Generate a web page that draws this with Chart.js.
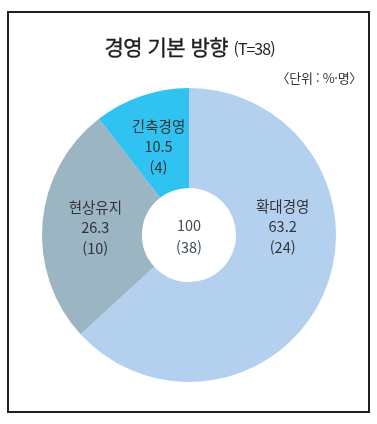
<!DOCTYPE html>
<html lang="ko">
<head>
  <meta charset="UTF-8">
  <title>경영 기본 방향</title>
  <script src="https://cdn.jsdelivr.net/npm/chart.js"></script>
  <style>
    body { margin: 0; background: #fff; font-family: "Noto Sans CJK KR", sans-serif; }
    .wrap { position: relative; width: 377px; height: 424px; }
    .frame {
      position: absolute; left: 7px; top: 11px; width: 359px; height: 398px;
      border: 2px solid #231f20;
    }
    #chart { position: absolute; left: 0; top: 0; }
    .titulo {
      position: absolute; left: 0; width: 379px; top: 31px; text-align: center;
      font-size: 21px; font-weight: 400; color: #231f20; letter-spacing: -0.5px;
      -webkit-text-stroke: 0.4px #231f20;
    }
    .titulo small { font-size: 16px; letter-spacing: -1px; -webkit-text-stroke: 0; }
    .unidad {
      position: absolute; right: 15px; top: 68px;
      font-size: 13px; color: #333; letter-spacing: -0.3px;
    }
  </style>
</head>
<body>
  <div class="wrap">
    <div class="frame"></div>
    <canvas id="chart" width="377" height="424"></canvas>
    <div class="titulo">경영 기본 방향 <small>(T=38)</small></div>
    <div class="unidad">〈단위 : %·명〉</div>
  </div>

  <script>
    const categorias = ['확대경영', '현상유지', '긴축경영'];
    const porcentajes = [63.2, 26.3, 10.5];
    const personas = [24, 10, 4];
    const colores = ['#b3d1ee', '#9bb5c3', '#30c3f1'];
    const total = 100;
    const totalPersonas = 38;
    // giro de la etiqueta respecto al centro del sector (grados)
    const giroEtiqueta = [-29, 0, 0];

    const etiquetas = {
      id: 'etiquetas',
      afterDatasetsDraw(chart) {
        const ctx = chart.ctx;
        const meta = chart.getDatasetMeta(0);
        ctx.save();
        ctx.textAlign = 'center';
        ctx.textBaseline = 'middle';
        ctx.font = '14.5px "Noto Sans CJK KR"';
        ctx.fillStyle = '#333';
        meta.data.forEach((arc, i) => {
          const p = arc.getProps(['x', 'y', 'startAngle', 'endAngle', 'innerRadius', 'outerRadius']);
          const ang = (p.startAngle + p.endAngle) / 2 + giroEtiqueta[i] * Math.PI / 180;
          const r = (p.innerRadius + p.outerRadius) / 2 - 3;
          const x = p.x + Math.cos(ang) * r;
          const y = p.y + Math.sin(ang) * r;
          ctx.fillText(categorias[i], x, y - 20);
          ctx.fillText(porcentajes[i].toFixed(1), x, y);
          ctx.fillText('(' + personas[i] + ')', x, y + 21);
        });
        const c = meta.data[0];
        ctx.fillStyle = '#3d4a57';
        ctx.fillText(String(total), c.x, c.y - 10);
        ctx.fillText('(' + totalPersonas + ')', c.x, c.y + 12);
        ctx.restore();
      }
    };

    new Chart(document.getElementById('chart'), {
      type: 'doughnut',
      data: {
        labels: categorias,
        datasets: [{
          data: porcentajes,
          backgroundColor: colores,
          borderWidth: 0,
          hoverOffset: 0
        }]
      },
      options: {
        responsive: false,
        animation: false,
        cutout: '32%',
        layout: { padding: { top: 88, bottom: 42, left: 42, right: 41 } },
        plugins: {
          legend: { display: false },
          tooltip: { enabled: false }
        }
      },
      plugins: [etiquetas]
    });
  </script>
</body>
</html>
